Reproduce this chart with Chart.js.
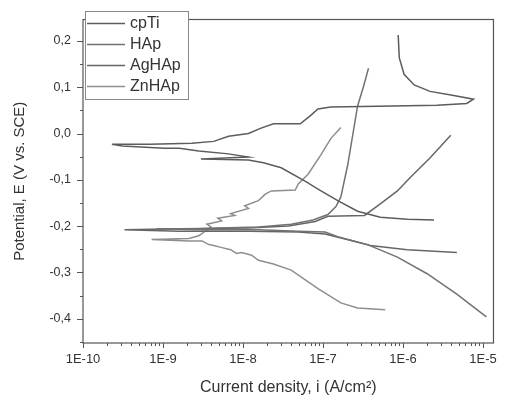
<!DOCTYPE html>
<html>
<head>
<meta charset="utf-8">
<script src="https://cdn.jsdelivr.net/npm/chart.js@4.4.1/dist/chart.umd.min.js"></script>
<style>
html,body{margin:0;padding:0;background:#fff;}
#wrap{width:506px;height:401px;}
</style>
</head>
<body>
<div id="wrap"><canvas id="c" width="506" height="401"></canvas></div>
<script>
// ---- data (current density A/cm2, potential V vs SCE) ----
const seriesNames = ['cpTi', 'HAp', 'AgHAp', 'ZnHAp'];

const cpTi_current = [2.44e-6,1.13e-6,5.2e-7,2.7e-7,1.53e-7,8.65e-8,5.97e-8,3.0e-8,1.8e-8,1.17e-8,2.98e-9,1.17e-8,6.6e-9,2.8e-9,1.6e-9,1.04e-9,3.1e-10,2.3e-10,6.8e-10,2.3e-9,4.3e-9,6.6e-9,1.17e-8,1.65e-8,2.4e-8,5.2e-8,6.9e-8,8.65e-8,1.25e-7,4.8e-7,2.65e-6,6.25e-6,7.6e-6,4.3e-6,2.17e-6,1.38e-6,1.03e-6,8.97e-7,8.7e-7];
const cpTi_potential = [-0.187,-0.185,-0.181,-0.168,-0.145,-0.12,-0.103,-0.074,-0.063,-0.057,-0.055,-0.051,-0.044,-0.038,-0.032,-0.032,-0.027,-0.023,-0.023,-0.021,-0.017,-0.006,0.0,0.011,0.021,0.021,0.038,0.053,0.057,0.059,0.061,0.065,0.074,0.082,0.091,0.105,0.128,0.164,0.213];

const HAp_current = [1.1e-5,4.7e-6,2.0e-6,8.5e-7,3.6e-7,1.53e-7,1.06e-7,4.9e-8,1.56e-8,2.8e-9,8.3e-10,2.8e-9,5e-9,1.56e-8,4.0e-8,7.5e-8,1.15e-7,1.45e-7,1.67e-7,2.04e-7,2.7e-7,3.2e-7,3.7e-7];
const HAp_potential = [-0.396,-0.347,-0.303,-0.267,-0.24,-0.223,-0.213,-0.211,-0.208,-0.208,-0.206,-0.206,-0.204,-0.202,-0.196,-0.187,-0.175,-0.158,-0.137,-0.067,0.059,0.101,0.141];

const AgHAp_current = [4.7e-6,1.13e-6,3.9e-7,2.0e-7,1.06e-7,4.9e-8,1.17e-8,1.6e-9,3.3e-10,1.6e-9,1.17e-8,3.7e-8,8.0e-8,1.15e-7,3.3e-7,5.2e-7,8.5e-7,1.23e-6,2.17e-6,3.95e-6];
const AgHAp_potential = [-0.257,-0.251,-0.242,-0.229,-0.217,-0.213,-0.211,-0.211,-0.208,-0.206,-0.204,-0.2,-0.19,-0.179,-0.177,-0.152,-0.124,-0.095,-0.053,-0.004];

const ZnHAp_current = [6.0e-7,2.7e-7,1.67e-7,8.65e-8,4.0e-8,2.4e-8,1.56e-8,1.28e-8,9.6e-9,8.3e-9,7.0e-9,5.3e-9,4.3e-9,3.75e-9,3.07e-9,2.1e-9,7.2e-10,2.1e-9,2.8e-9,3.97e-9,3.54e-9,5.4e-9,4.84e-9,7.9e-9,7.0e-9,1.17e-8,1.05e-8,1.56e-8,1.9e-8,2.26e-8,4.5e-8,4.9e-8,6.5e-8,9.4e-8,1.25e-7,1.67e-7];
const ZnHAp_potential = [-0.381,-0.377,-0.366,-0.335,-0.295,-0.282,-0.274,-0.263,-0.257,-0.259,-0.251,-0.246,-0.242,-0.24,-0.232,-0.232,-0.229,-0.227,-0.221,-0.202,-0.196,-0.189,-0.183,-0.177,-0.173,-0.162,-0.156,-0.145,-0.131,-0.124,-0.122,-0.109,-0.088,-0.046,-0.011,0.013];

const xTickValues = [1e-10, 1e-9, 1e-8, 1e-7, 1e-6, 1e-5];
const xTickLabels = ['1E-10', '1E-9', '1E-8', '1E-7', '1E-6', '1E-5'];
const yTickValues = [-0.4, -0.3, -0.2, -0.1, 0.0, 0.1, 0.2];
const yTickLabels = ['-0,4', '-0,3', '-0,2', '-0,1', '0,0', '0,1', '0,2'];

// ---- styling ----
const seriesColors = ['#5c5c5c', '#727272', '#666666', '#8e8e8e'];
const axisColor = '#555555';
const textColor = '#333333';
const FONT = '"Liberation Sans", Arial, sans-serif';

function zip(xs, ys) { return xs.map((x, i) => ({x: x, y: ys[i]})); }
const allSeries = [
  zip(cpTi_current, cpTi_potential),
  zip(HAp_current, HAp_potential),
  zip(AgHAp_current, AgHAp_potential),
  zip(ZnHAp_current, ZnHAp_potential)
];

const datasets = allSeries.map((d, i) => ({
  label: seriesNames[i],
  data: d,
  showLine: true,
  borderColor: seriesColors[i],
  backgroundColor: seriesColors[i],
  borderWidth: 1.5,
  pointRadius: 0,
  tension: 0,
  fill: false
}));

const framePlugin = {
  id: 'frame',
  afterDraw(chart) {
    const ctx = chart.ctx, a = chart.chartArea;
    const xs = chart.scales.x, ys = chart.scales.y;
    ctx.save();
    ctx.strokeStyle = axisColor;
    ctx.lineWidth = 1.2;
    ctx.strokeRect(a.left, a.top, a.right - a.left, a.bottom - a.top);
    // y ticks (outward)
    ctx.lineWidth = 1;
    ctx.beginPath();
    for (let k = -9; k <= 5; k++) {
      const v = k * 0.05;
      if (v < ys.min || v > ys.max) continue;
      const p = Math.round(ys.getPixelForValue(v)) + 0.5;
      const len = (k % 2 === 0) ? 6 : 3;
      ctx.moveTo(a.left, p); ctx.lineTo(a.left - len, p);
    }
    // x ticks (outward), major + minor
    for (let e = -10; e <= -5; e++) {
      for (let m = 1; m <= 9; m++) {
        const v = m * Math.pow(10, e);
        if (v < xs.min * 0.999 || v > xs.max) continue;
        const p = Math.round(xs.getPixelForValue(v)) + 0.5;
        const len = m === 1 ? 5 : 3;
        ctx.moveTo(p, a.bottom); ctx.lineTo(p, a.bottom + len);
      }
    }
    ctx.stroke();

    // legend box
    const bx = 85, by = 11, bw = 103, bh = 88;
    ctx.fillStyle = '#ffffff';
    ctx.fillRect(bx, by, bw, bh);
    ctx.strokeStyle = '#888888';
    ctx.lineWidth = 1;
    ctx.strokeRect(bx + 0.5, by + 0.5, bw, bh);
    const rows = [23, 44, 65, 86];
    ctx.font = '16px ' + FONT;
    ctx.textBaseline = 'middle';
    ctx.textAlign = 'left';
    chart.data.datasets.forEach((ds, i) => {
      ctx.strokeStyle = ds.borderColor;
      ctx.lineWidth = 1.5;
      ctx.beginPath();
      ctx.moveTo(87, rows[i] + 0.5); ctx.lineTo(125, rows[i] + 0.5);
      ctx.stroke();
      ctx.fillStyle = textColor;
      ctx.fillText(ds.label, 130, rows[i] + 1);
    });
    ctx.restore();
  }
};

new Chart(document.getElementById('c'), {
  type: 'scatter',
  data: { datasets: datasets },
  options: {
    responsive: false,
    animation: false,
    devicePixelRatio: 1,
    layout: { padding: { left: 0, right: 9, top: 11, bottom: 0 } },
    plugins: { legend: { display: false }, tooltip: { enabled: false } },
    scales: {
      x: {
        type: 'logarithmic',
        min: 1e-10,
        max: 1.35e-5,
        afterBuildTicks(scale) { scale.ticks = xTickValues.map(v => ({value: v})); },
        afterFit(scale) { scale.height = 58; },
        grid: { display: false, drawTicks: false },
        border: { display: false },
        ticks: {
          autoSkip: false,
          maxRotation: 0,
          padding: 9,
          color: textColor,
          font: { family: FONT, size: 13 },
          callback(v) { const i = xTickValues.findIndex(t => Math.abs(Math.log10(t) - Math.log10(v)) < 1e-6); return i >= 0 ? xTickLabels[i] : ''; }
        },
        title: {
          display: true,
          text: 'Current density, i (A/cm²)',
          color: textColor,
          font: { family: FONT, size: 16 },
          padding: { top: 0, bottom: 4 }
        }
      },
      y: {
        type: 'linear',
        min: -0.4526,
        max: 0.2463,
        afterBuildTicks(scale) { scale.ticks = yTickValues.map(v => ({value: v})); },
        afterFit(scale) { scale.width = 83; },
        grid: { display: false, drawTicks: false },
        border: { display: false },
        ticks: {
          padding: 12,
          color: textColor,
          font: { family: FONT, size: 12.5 },
          callback(v) { const i = yTickValues.findIndex(t => Math.abs(t - v) < 1e-6); return i >= 0 ? yTickLabels[i] : ''; }
        },
        title: {
          display: true,
          text: 'Potential, E (V vs. SCE)',
          color: textColor,
          font: { family: FONT, size: 15 },
          padding: { top: 11, bottom: 0 }
        }
      }
    }
  },
  plugins: [framePlugin]
});
</script>
</body>
</html>
